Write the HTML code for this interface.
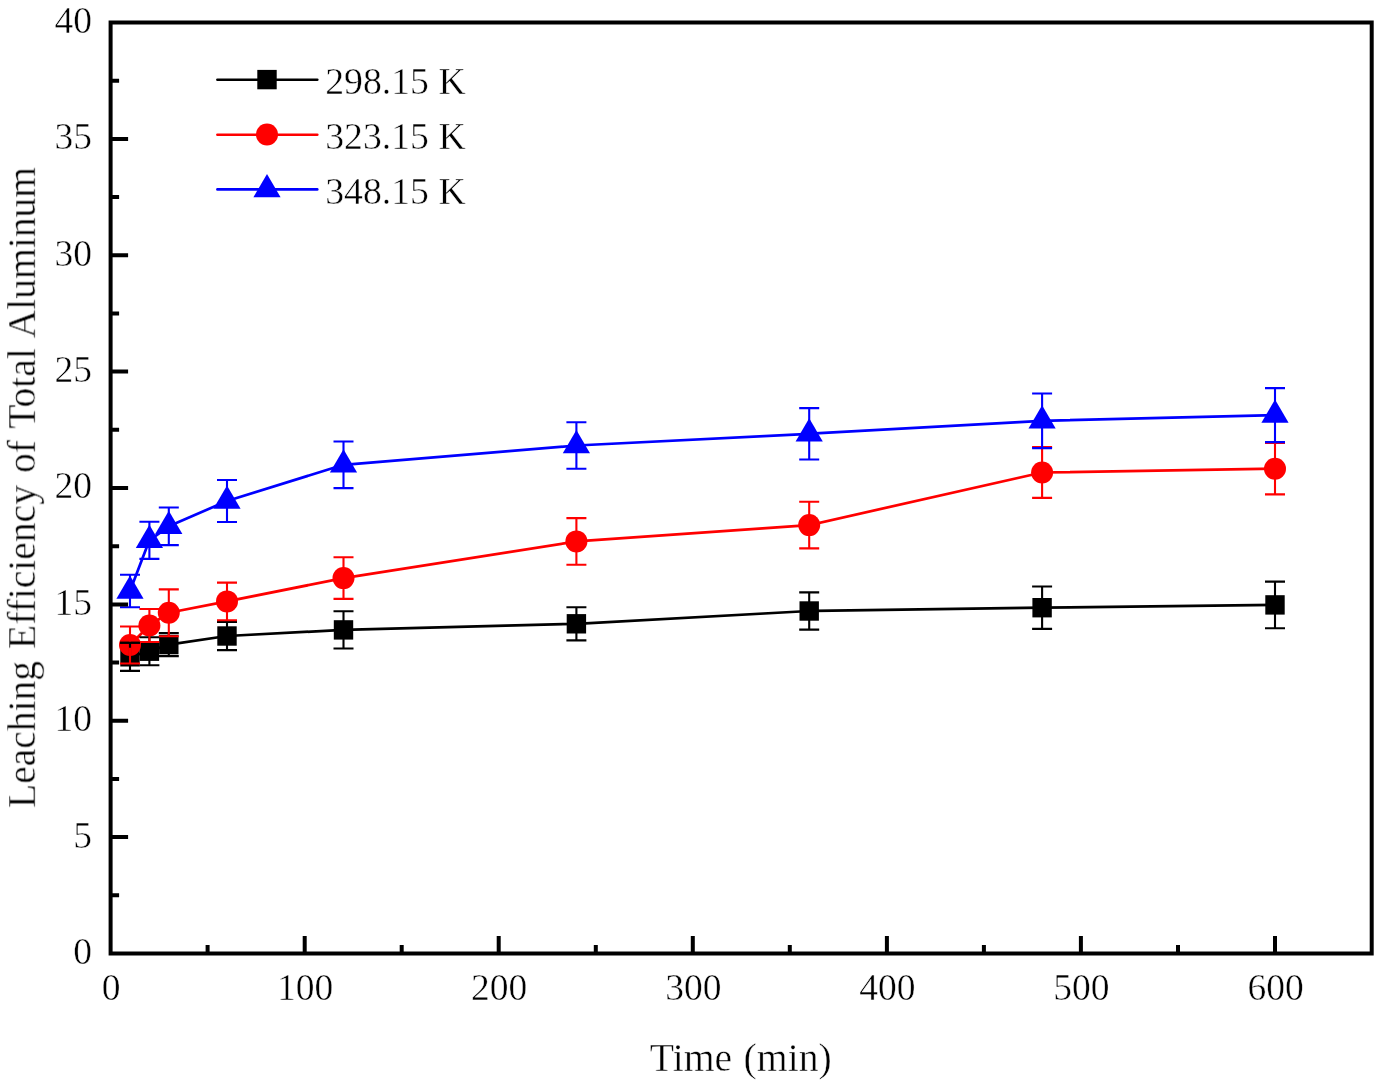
<!DOCTYPE html>
<html lang="en"><head><meta charset="utf-8"><title>Leaching Efficiency of Total Aluminum vs Time</title>
<style>html,body{margin:0;padding:0;background:#fff;}svg{display:block;}text{font-family:"Liberation Serif", "DejaVu Serif", serif;font-size:37.5px;fill:#000;stroke:#fff;stroke-width:0.45px;}</style>
</head><body>
<svg width="1382" height="1088" viewBox="0 0 1382 1088">
<defs><filter id="soft" x="0" y="0" width="1382" height="1088" filterUnits="userSpaceOnUse"><feGaussianBlur stdDeviation="0.55"/></filter></defs>
<rect x="0" y="0" width="1382" height="1088" fill="#ffffff"/>
<g filter="url(#soft)">
<g id="series">
<polyline points="130.0,656.8 149.4,651.2 168.8,644.6 227.0,636.0 343.5,629.9 576.4,623.8 809.2,611.0 1042.1,607.7 1275.0,604.9" fill="none" stroke="#000000" stroke-width="2.7" stroke-linejoin="round"/>
<rect x="120.3" y="647.1" width="19.4" height="19.4" fill="#000000"/>
<rect x="139.7" y="641.5" width="19.4" height="19.4" fill="#000000"/>
<rect x="159.1" y="634.9" width="19.4" height="19.4" fill="#000000"/>
<rect x="217.3" y="626.3" width="19.4" height="19.4" fill="#000000"/>
<rect x="333.8" y="620.2" width="19.4" height="19.4" fill="#000000"/>
<rect x="566.7" y="614.1" width="19.4" height="19.4" fill="#000000"/>
<rect x="799.5" y="601.3" width="19.4" height="19.4" fill="#000000"/>
<rect x="1032.4" y="598.0" width="19.4" height="19.4" fill="#000000"/>
<rect x="1265.3" y="595.2" width="19.4" height="19.4" fill="#000000"/>
<polyline points="130.0,645.0 149.4,625.5 168.8,612.8 227.0,601.4 343.5,578.1 576.4,541.4 809.2,525.1 1042.1,472.5 1275.0,468.7" fill="none" stroke="#ff0000" stroke-width="2.7" stroke-linejoin="round"/>
<circle cx="130.0" cy="645.0" r="11" fill="#ff0000"/>
<circle cx="149.4" cy="625.5" r="11" fill="#ff0000"/>
<circle cx="168.8" cy="612.8" r="11" fill="#ff0000"/>
<circle cx="227.0" cy="601.4" r="11" fill="#ff0000"/>
<circle cx="343.5" cy="578.1" r="11" fill="#ff0000"/>
<circle cx="576.4" cy="541.4" r="11" fill="#ff0000"/>
<circle cx="809.2" cy="525.1" r="11" fill="#ff0000"/>
<circle cx="1042.1" cy="472.5" r="11" fill="#ff0000"/>
<circle cx="1275.0" cy="468.7" r="11" fill="#ff0000"/>
<polyline points="130.0,591.0 149.4,540.3 168.8,526.3 227.0,501.0 343.5,464.8 576.4,445.5 809.2,433.8 1042.1,420.8 1275.0,415.1" fill="none" stroke="#0000ff" stroke-width="2.7" stroke-linejoin="round"/>
<polygon points="130.0,575.5 116.4,598.7 143.6,598.7" fill="#0000ff"/>
<polygon points="149.4,524.8 135.8,548.0 163.0,548.0" fill="#0000ff"/>
<polygon points="168.8,510.8 155.2,534.0 182.4,534.0" fill="#0000ff"/>
<polygon points="227.0,485.5 213.4,508.7 240.6,508.7" fill="#0000ff"/>
<polygon points="343.5,449.3 329.9,472.5 357.1,472.5" fill="#0000ff"/>
<polygon points="576.4,430.0 562.8,453.2 590.0,453.2" fill="#0000ff"/>
<polygon points="809.2,418.3 795.6,441.5 822.8,441.5" fill="#0000ff"/>
<polygon points="1042.1,405.3 1028.5,428.5 1055.7,428.5" fill="#0000ff"/>
<polygon points="1275.0,399.6 1261.4,422.8 1288.6,422.8" fill="#0000ff"/>
</g>
<g id="errorbars" fill="none" stroke-width="2.1">
<path d="M130.0 642.7V670.9M120.0 642.7H140.0M120.0 670.9H140.0M149.4 637.2V665.2M139.4 637.2H159.4M139.4 665.2H159.4M168.8 633.1V656.1M158.8 633.1H178.8M158.8 656.1H178.8M227.0 621.9V650.1M217.0 621.9H237.0M217.0 650.1H237.0M343.5 611.3V648.5M333.5 611.3H353.5M333.5 648.5H353.5M576.4 607.2V640.4M566.4 607.2H586.4M566.4 640.4H586.4M809.2 592.4V629.6M799.2 592.4H819.2M799.2 629.6H819.2M1042.1 586.5V628.9M1032.1 586.5H1052.1M1032.1 628.9H1052.1M1275.0 581.6V628.2M1265.0 581.6H1285.0M1265.0 628.2H1285.0" stroke="#000000"/>
<path d="M130.0 626.5V663.5M120.0 626.5H140.0M120.0 663.5H140.0M149.4 609.0V642.0M139.4 609.0H159.4M139.4 642.0H159.4M168.8 589.4V636.2M158.8 589.4H178.8M158.8 636.2H178.8M227.0 582.6V620.2M217.0 582.6H237.0M217.0 620.2H237.0M343.5 557.3V598.9M333.5 557.3H353.5M333.5 598.9H353.5M576.4 518.1V564.7M566.4 518.1H586.4M566.4 564.7H586.4M809.2 501.8V548.4M799.2 501.8H819.2M799.2 548.4H819.2M1042.1 447.1V497.9M1032.1 447.1H1052.1M1032.1 497.9H1052.1M1275.0 443.0V494.4M1265.0 443.0H1285.0M1265.0 494.4H1285.0" stroke="#ff0000"/>
<path d="M130.0 574.8V607.2M120.0 574.8H140.0M120.0 607.2H140.0M149.4 521.7V558.9M139.4 521.7H159.4M139.4 558.9H159.4M168.8 507.5V545.1M158.8 507.5H178.8M158.8 545.1H178.8M227.0 480.0V522.0M217.0 480.0H237.0M217.0 522.0H237.0M343.5 441.5V488.1M333.5 441.5H353.5M333.5 488.1H353.5M576.4 422.2V468.8M566.4 422.2H586.4M566.4 468.8H586.4M809.2 408.1V459.5M799.2 408.1H819.2M799.2 459.5H819.2M1042.1 393.5V448.1M1032.1 393.5H1052.1M1032.1 448.1H1052.1M1275.0 388.1V442.1M1265.0 388.1H1285.0M1265.0 442.1H1285.0" stroke="#0000ff"/>
<path d="M130.0 642.7V647.8M120.0 642.7H140.0" stroke="#000"/>
</g>
<g id="axes" stroke="#000" stroke-width="4" fill="none">
<rect x="110.6" y="22.5" width="1261.1" height="931.0"/>
<path d="M207.6 953.5V945.0M304.7 953.5V936.0M401.7 953.5V945.0M498.7 953.5V936.0M595.8 953.5V945.0M692.8 953.5V936.0M789.8 953.5V945.0M886.9 953.5V936.0M983.9 953.5V945.0M1080.9 953.5V936.0M1178.0 953.5V945.0M1275.0 953.5V936.0M110.6 895.3H119.1M110.6 837.1H128.1M110.6 778.9H119.1M110.6 720.8H128.1M110.6 662.6H119.1M110.6 604.4H128.1M110.6 546.2H119.1M110.6 488.0H128.1M110.6 429.8H119.1M110.6 371.6H128.1M110.6 313.4H119.1M110.6 255.2H128.1M110.6 197.1H119.1M110.6 138.9H128.1M110.6 80.7H119.1"/>
</g>
<g id="xlabels" text-anchor="middle">
<text x="111.0" y="1000.4">0</text>
<text x="305.2" y="1000.4">100</text>
<text x="499.2" y="1000.4">200</text>
<text x="693.3" y="1000.4">300</text>
<text x="887.4" y="1000.4">400</text>
<text x="1081.4" y="1000.4">500</text>
<text x="1275.5" y="1000.4">600</text>
</g>
<g id="ylabels" text-anchor="end">
<text x="91.9" y="963.9">0</text>
<text x="91.9" y="847.5">5</text>
<text x="91.9" y="731.1">10</text>
<text x="91.9" y="614.8">15</text>
<text x="91.9" y="498.4">20</text>
<text x="91.9" y="382.0">25</text>
<text x="91.9" y="265.6">30</text>
<text x="91.9" y="149.3">35</text>
<text x="91.9" y="32.9">40</text>
</g>
<text x="740.8" y="1070.9" text-anchor="middle" style="font-size:39.5px;word-spacing:1.5px" textLength="182" lengthAdjust="spacingAndGlyphs">Time (min)</text>
<text transform="translate(35.1 487.5) rotate(-90)" text-anchor="middle" style="font-size:39.5px;word-spacing:2.2px">Leaching Efficiency of Total Aluminum</text>
<g id="legend">
<line x1="217.4" y1="79.8" x2="317.3" y2="79.8" stroke="#000000" stroke-width="2.6" stroke-linecap="round"/>
<rect x="257.3" y="69.9" width="19.4" height="19.4" fill="#000000"/>
<text x="325.2" y="94.3" textLength="140.5" lengthAdjust="spacingAndGlyphs">298.15 K</text>
<line x1="217.4" y1="134.7" x2="317.3" y2="134.7" stroke="#ff0000" stroke-width="2.6" stroke-linecap="round"/>
<circle cx="267.0" cy="134.5" r="11" fill="#ff0000"/>
<text x="325.2" y="149.2" textLength="140.5" lengthAdjust="spacingAndGlyphs">323.15 K</text>
<line x1="217.4" y1="189.4" x2="317.3" y2="189.4" stroke="#0000ff" stroke-width="2.6" stroke-linecap="round"/>
<polygon points="267.0,174.1 253.4,197.3 280.6,197.3" fill="#0000ff"/>
<text x="325.2" y="203.9" textLength="140.5" lengthAdjust="spacingAndGlyphs">348.15 K</text>
</g>
</g>
</svg>
</body></html>
